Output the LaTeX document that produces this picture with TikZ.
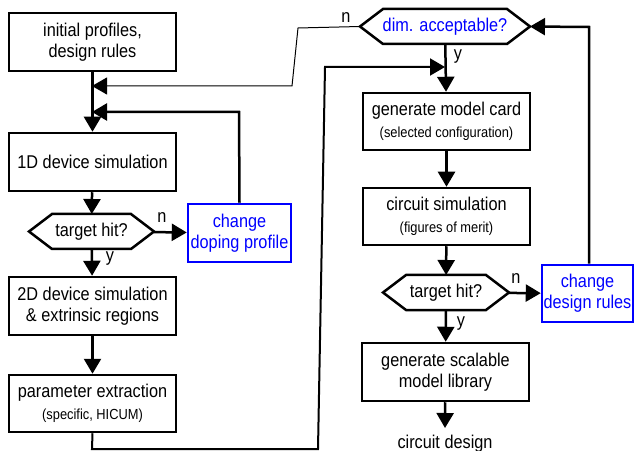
\documentclass[tikz,border=0pt]{standalone}
\usepackage{fontspec}
\setmainfont[FakeStretch=0.88]{Liberation Sans}
\usetikzlibrary{arrows.meta, positioning, calc}
\newcommand{\smalltxt}{\fontsize{14.6bp}{16bp}\selectfont}
\newcommand{\hexa}[1]{\draw[line width=2.5bp] (#1.west) -- ([xshift=23bp]#1.north west) -- ([xshift=-23bp]#1.north east) -- (#1.east) -- ([xshift=-23bp]#1.south east) -- ([xshift=23bp]#1.south west) -- cycle;}
\tikzset{
  box/.style={draw, line width=2.5bp, minimum width=167bp, minimum height=58bp, align=center, inner sep=1bp},
  bluebox/.style={box, draw=blue, text=blue, minimum width=103bp},
  hexnode/.style={minimum height=35bp, inner sep=0pt, outer sep=0pt, align=center},
  flow/.style={line width=2.5bp, ->},
  thinflow/.style={line width=1bp, ->},
  lbl/.style={inner sep=0pt}
}
\begin{document}
\begin{tikzpicture}[x=1bp, y=-1bp, >={Triangle[length=15bp,width=17bp]}, font=\fontsize{18.5bp}{21bp}\selectfont]
\useasboundingbox (0,0) rectangle (634,451);
% left column
\node[box] (init) at (92.5,42) {initial profiles,\\design rules};
\node[box] (sim1) at (92.5,162) {1D device simulation};
\node[hexnode, minimum width=125bp] (hit1) at (91.5,231.5) {target hit?};
\hexa{hit1}
\node[bluebox] (dop) at (239.5,233) {change\\doping profile};
\node[box] (sim2) at (92.5,306) {2D device simulation\\\& extrinsic regions};
\node[box, minimum height=57bp] (par) at (92.5,403.5) {parameter extraction\\[1bp]{\smalltxt (specific, HICUM)}};
% right column
\node[hexnode, minimum width=170bp, text=blue] (dim) at (445,26.5) {dim. acceptable?};
\hexa{dim}
\node[box, minimum height=57bp] (card) at (446.5,121.5) {generate model card\\[1bp]{\smalltxt (selected configuration)}};
\node[box, minimum height=57bp] (csim) at (446.5,216.5) {circuit simulation\\[1bp]{\smalltxt (figures of merit)}};
\node[hexnode, minimum width=126bp] (hit2) at (446,292.5) {target hit?};
\hexa{hit2}
\node[bluebox, minimum width=91bp, minimum height=57bp] (rules) at (587.5,293.5) {change\\design rules};
\node[box] (lib) at (445.5,372) {generate scalable\\model library};
\node[anchor=base] (out) at (445,448) {circuit design};
% junctions
\coordinate (j1) at (92,86);
\coordinate (j2) at (92,112);
\coordinate (j3) at (445,67);
\coordinate (outtip) at (445,428);
% connectors
\draw[flow] (init) -- (sim1);
\draw[flow] (sim1) -- (hit1);
\draw[flow] (hit1) -- (dop);
\draw[flow] (hit1) -- (sim2);
\draw[flow] (sim2) -- (par);
\draw[flow] (dop.north) -- (239,112) -- (j2);
\draw[thinflow] (dim.west) -- (298,28) -- (292,86) -- (j1);
\draw[flow] (dim) -- (card);
\draw[flow, line width=2bp] (par.south) -- (92,449) -- (318,449) -- (325,67) -- (j3);
\draw[flow] (card) -- (csim);
\draw[flow] (csim) -- (hit2);
\draw[flow] (hit2) -- (rules);
\draw[flow] (rules.north -| 589,0) -- (589,27) -- (dim.east);
\draw[flow] (hit2) -- (lib);
\draw[flow] (lib) -- (outtip);
% labels
\node[lbl] (n1) at (162,218) {n};
\node[lbl] (y1) at (110,259) {y};
\node[lbl] (n2) at (346,18) {n};
\node[lbl] (y2) at (458,57) {y};
\node[lbl] (n3) at (516,279) {n};
\node[lbl] (y3) at (461,324) {y};
\end{tikzpicture}
\end{document}
